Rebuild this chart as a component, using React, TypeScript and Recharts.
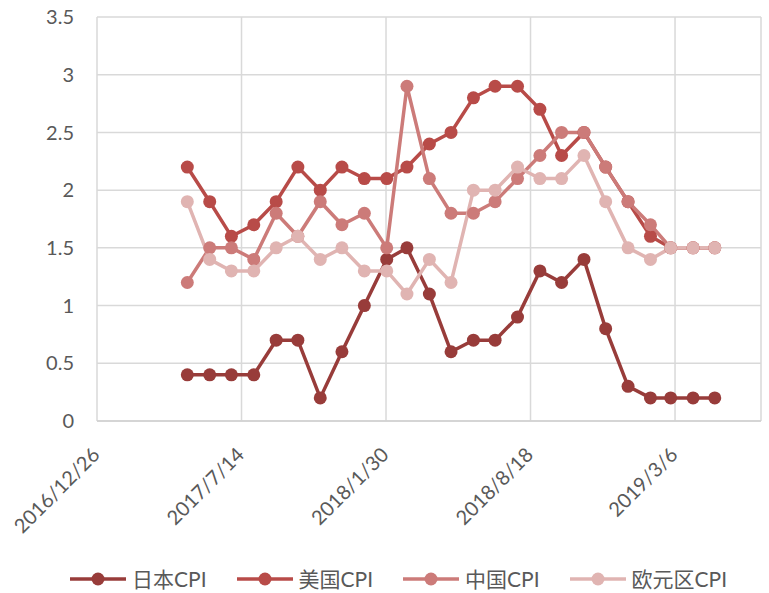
import React from "react";
import { LineChart, Line, XAxis, YAxis, CartesianGrid } from "recharts";

const dates = [
  "2017/4/30", "2017/5/31", "2017/6/30", "2017/7/31", "2017/8/31", "2017/9/30",
  "2017/10/31", "2017/11/30", "2017/12/31", "2018/1/31", "2018/2/28", "2018/3/31",
  "2018/4/30", "2018/5/31", "2018/6/30", "2018/7/31", "2018/8/31", "2018/9/30",
  "2018/10/31", "2018/11/30", "2018/12/31", "2019/1/31", "2019/2/28", "2019/3/31",
  "2019/4/30",
];

const japanCPI = [0.4, 0.4, 0.4, 0.4, 0.7, 0.7, 0.2, 0.6, 1.0, 1.4, 1.5, 1.1, 0.6, 0.7, 0.7, 0.9, 1.3, 1.2, 1.4, 0.8, 0.3, 0.2, 0.2, 0.2, 0.2];
const usCPI = [2.2, 1.9, 1.6, 1.7, 1.9, 2.2, 2.0, 2.2, 2.1, 2.1, 2.2, 2.4, 2.5, 2.8, 2.9, 2.9, 2.7, 2.3, 2.5, 2.2, 1.9, 1.6, 1.5, 1.5, 1.5];
const chinaCPI = [1.2, 1.5, 1.5, 1.4, 1.8, 1.6, 1.9, 1.7, 1.8, 1.5, 2.9, 2.1, 1.8, 1.8, 1.9, 2.1, 2.3, 2.5, 2.5, 2.2, 1.9, 1.7, 1.5, 1.5, 1.5];
const euroCPI = [1.9, 1.4, 1.3, 1.3, 1.5, 1.6, 1.4, 1.5, 1.3, 1.3, 1.1, 1.4, 1.2, 2.0, 2.0, 2.2, 2.1, 2.1, 2.3, 1.9, 1.5, 1.4, 1.5, 1.5, 1.5];

const seriesNames = ["日本CPI", "美国CPI", "中国CPI", "欧元区CPI"];
const seriesKeys = ["japan", "us", "china", "euro"];
const seriesColors = ["#983C3A", "#B84B48", "#CC7B79", "#E0B4B2"];

const xTickLabels = ["2016/12/26", "2017/7/14", "2018/1/30", "2018/8/18", "2019/3/6"];
const xAxisStart = "2016/12/26";
const xAxisEnd = "2019/7/3";
const yTicks = [0, 0.5, 1, 1.5, 2, 2.5, 3, 3.5];

const toUTC = (s: string) => {
  const [y, m, d] = s.split("/").map(Number);
  return Date.UTC(y, m - 1, d);
};
const baseMs = toUTC(xAxisStart);
const toDays = (s: string) => Math.round((toUTC(s) - baseMs) / 86400000);

const xTicks = xTickLabels.map(toDays);
const labelByDay: Record<number, string> = {};
xTickLabels.forEach((l) => (labelByDay[toDays(l)] = l));

const data = dates.map((d, i) => ({
  day: toDays(d),
  japan: japanCPI[i],
  us: usCPI[i],
  china: chinaCPI[i],
  euro: euroCPI[i],
}));

const FONT = "Lato, 'Noto Sans CJK SC', sans-serif";
const TEXT_COLOR = "#595959";

const XTick = (props: any) => {
  const { x, y, payload } = props;
  const ax = x + 4;
  const ay = y + 27;
  return (
    <text
      x={ax}
      y={ay}
      textAnchor="end"
      transform={`rotate(-45, ${ax}, ${ay})`}
      fill={TEXT_COLOR}
      fontSize={20}
      fontFamily={FONT}
    >
      {labelByDay[payload.value] ?? ""}
    </text>
  );
};

export default function App() {
  return (
    <div style={{ position: "absolute", left: 0, top: 0, width: 769, height: 593, background: "#fff" }}>
      <LineChart
        width={769}
        height={593}
        data={data}
        margin={{ top: 17, right: 8, bottom: 52, left: 0 }}
      >
        <CartesianGrid stroke="#D9D9D9" strokeWidth={1.5} />
        <XAxis
          dataKey="day"
          type="number"
          domain={[0, toDays(xAxisEnd)]}
          ticks={xTicks}
          interval={0}
          tickLine={false}
          axisLine={{ stroke: "#D0D0D0", strokeWidth: 1.5 }}
          tick={<XTick />}
          height={120}
          allowDataOverflow
        />
        <YAxis
          type="number"
          domain={[0, 3.5]}
          ticks={yTicks}
          interval={0}
          width={97}
          tickLine={false}
          axisLine={false}
          tickMargin={17}
          tick={{ fill: TEXT_COLOR, fontSize: 20, fontFamily: FONT }}
        />
        {seriesKeys.map((k, i) => (
          <Line
            key={k}
            type="linear"
            dataKey={k}
            name={seriesNames[i]}
            stroke={seriesColors[i]}
            strokeWidth={3.5}
            dot={{ r: 6.5, fill: seriesColors[i], stroke: seriesColors[i], strokeWidth: 0 }}
            isAnimationActive={false}
          />
        ))}
      </LineChart>
      <div
        style={{
          position: "absolute",
          left: 70,
          top: 566,
          display: "flex",
          alignItems: "center",
          height: 26,
          fontFamily: FONT,
          fontSize: 21,
          color: TEXT_COLOR,
          whiteSpace: "nowrap",
        }}
      >
        {seriesNames.map((n, i) => (
          <div key={n} style={{ display: "flex", alignItems: "center", marginRight: 30 }}>
            <svg width={56} height={16} style={{ display: "block" }}>
              <line x1={0} y1={8} x2={56} y2={8} stroke={seriesColors[i]} strokeWidth={3.5} />
              <circle cx={28} cy={8} r={6.5} fill={seriesColors[i]} />
            </svg>
            <span style={{ marginLeft: 6, lineHeight: "26px" }}>{n}</span>
          </div>
        ))}
      </div>
    </div>
  );
}
